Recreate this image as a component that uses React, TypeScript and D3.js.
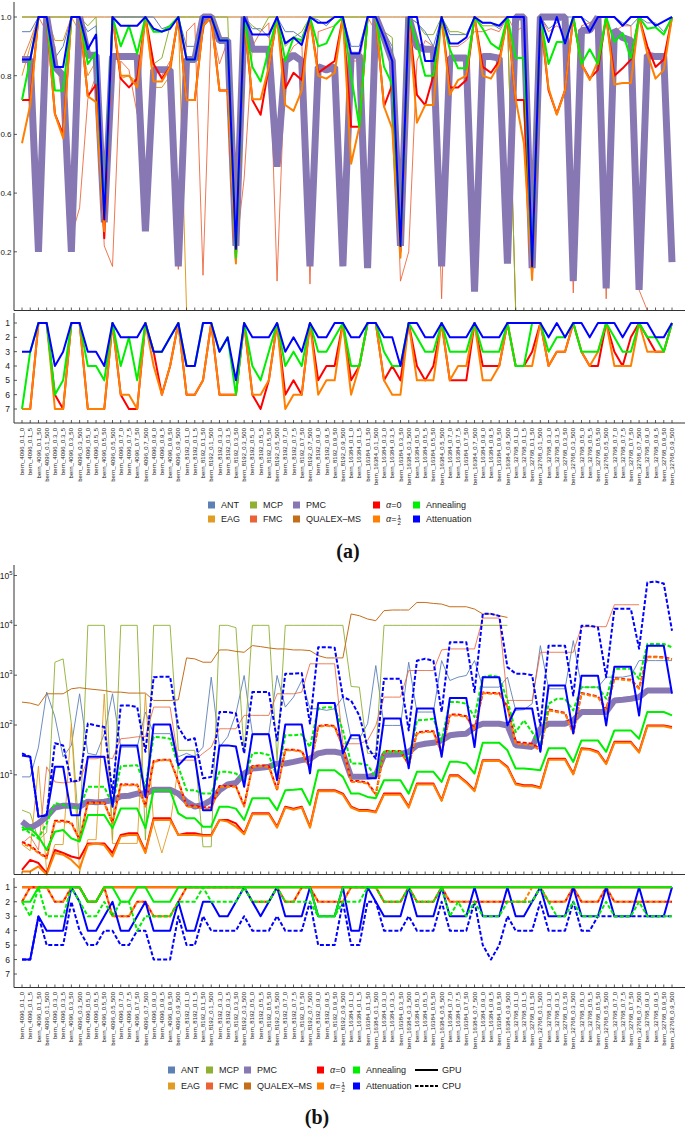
import React from "react";
import * as d3 from "d3";

// ---------- categories ----------
const sizes = ["4096", "8192", "16384", "32768"];
const densities = ["0.1", "0.3", "0.5", "0.7", "0.9"];
const weights = ["0", "5", "50", "500"];
const categories: string[] = [];
for (const s of sizes) for (const p of densities) for (const w of weights) categories.push(`bern_${s}_${p}_${w}`);

// ---------- panel (a): quality ----------
const antA = [
  0.95, 0.95, 1, 1, 0.86, 0.9, 1, 1, 0.95, 0.97,
  0.3, 1, 1, 1, 1, 1, 1, 0.96, 0.97, 1,
  0.9, 0.9, 1, 1, 0.92, 0.92, 0.21, 1, 0.96, 0.96,
  0.93, 1, 0.95, 0.95, 0.93, 1, 0.99, 0.97, 1, 1,
  0.9, 0.9, 1, 1, 0.95, 0.9, 0.22, 1, 0.98, 0.95,
  0.9, 1, 0.94, 0.94, 0.94, 1, 0.98, 0.98, 0.96, 1,
  1, 1, 0.15, 1, 0.96, 0.98, 1, 1, 1, 0.98,
  1, 1, 1, 0.98, 0.97, 1, 0.98, 0.98, 0.95, 1,
];
const mcpA = [
  1, 1, 1, 1, 1, 1, 1, 1, 0.97, 1,
  0.31, 1, 1, 1, 1, 1, 0.84, 0.86, 0.97, 1,
  1, 1, 1, 1, 1, 1, 0.21, 1, 0.97, 0.95,
  1, 1, 0.9, 0.93, 0.95, 1, 1, 1, 1, 1,
  1, 1, 1, 1, 0.95, 0.93, 0.22, 1, 0.98, 0.94,
  0.94, 1, 0.95, 0.95, 0.94, 1, 0.97, 0.97, 0.97, 1,
  0, 0, 0, 0, 0, 0, 0, 0, 0, 0,
  0, 0, 0, 0, 0, 0, 0, 0, 0, 0,
];
const eagA = [
  0.8, 0.9, 1, 1, 0.92, 0.92, 1, 0.95, 0.8, 0.85,
  0.3, 1, 0.79, 0.8, 0.78, 1, 0.76, 0.76, 0.8, 1,
  0, 0, 0, 0, 0, 0, 0, 0, 0, 0,
  0, 0, 0, 0, 0, 0, 0, 0, 0, 0,
  0, 0, 0, 0, 0, 0, 0, 0, 0, 0,
  0, 0, 0, 0, 0, 0, 0, 0, 0, 0,
  0, 0, 0, 0, 0, 0, 0, 0, 0, 0,
  0, 0, 0, 0, 0, 0, 0, 0, 0, 0,
];
const fmcA = [
  0.85, 0.92, 1, 0.95, 0.9, 0.7, 0.25, 0.35, 0.72, 0.8,
  0.22, 0.15, 0.85, 0.82, 0.67, 1, 0.82, 0.8, 0.85, 0.14,
  0.95, 0.98, 0.12, 0.98, 0.84, 0.92, 0.2, 0.45, 0.9, 0.95,
  0.98, 0.1, 0.85, 0.9, 0.92, 0.09, 0.95, 0.96, 0.97, 1,
  0.85, 0.85, 1, 0.95, 0.92, 0.88, 0.1, 0.2, 0.85, 0.92,
  0.9, 0.04, 0.9, 0.9, 0.92, 0.95, 0.95, 0.96, 0.95, 1,
  0.95, 0.97, 0.12, 1, 0.95, 0.97, 0.95, 0.06, 0.97, 0.98,
  0.97, 0.04, 0.95, 0.97, 0.97, 0.07, 0, 0, 0, 0,
];
const qualexA = [
  1, 1, 1, 1, 1, 1, 1, 1, 1, 1,
  1, 1, 1, 1, 1, 1, 1, 1, 1, 1,
  1, 1, 1, 1, 1, 1, 1, 1, 1, 1,
  1, 1, 1, 1, 1, 1, 1, 1, 1, 1,
  1, 1, 1, 1, 1, 1, 1, 1, 1, 1,
  1, 1, 1, 1, 1, 1, 1, 1, 1, 1,
  0, 0, 0, 0, 0, 0, 0, 0, 0, 0,
  0, 0, 0, 0, 0, 0, 0, 0, 0, 0,
];
const pmcA = [
  0.855, 0.855, 0.2, 1, 0.83, 0.8, 0.2, 1, 0.87, 0.87,
  0.3, 0.865, 0.865, 0.865, 0.865, 0.27, 0.82, 0.82, 0.82, 0.15,
  0.855, 0.855, 1, 1, 0.92, 0.92, 0.22, 1, 0.89, 0.89,
  0.89, 0.49, 0.85, 0.87, 0.85, 0.15, 0.83, 0.82, 0.83, 0.15,
  0.87, 0.87, 0.144, 1, 0.93, 0.85, 0.22, 1, 0.9, 0.89,
  0.89, 0.15, 0.86, 0.86, 0.86, 0.064, 0.865, 0.865, 0.86, 0.16,
  1, 1, 0.144, 1, 1, 1, 1, 0.1, 0.955, 0.955,
  1, 0.075, 0.955, 0.93, 0.92, 0.07, 0.87, 0.865, 0.865, 0.165,
];
const alpha0A = [
  0.717, 0.717, 1, 1, 0.67, 0.6, 1, 1, 0.73, 0.77,
  0.246, 1, 0.79, 0.76, 0.79, 1, 0.84, 0.79, 0.83, 1,
  0.717, 0.717, 0.97, 1, 0.75, 0.75, 0.17, 1, 0.717, 0.667,
  0.83, 1, 0.757, 0.81, 0.785, 1, 0.81, 0.83, 0.85, 1,
  0.626, 0.626, 1, 1, 0.695, 0.77, 0.2, 1, 0.735, 0.7,
  0.8, 1, 0.76, 0.76, 0.785, 1, 0.83, 0.81, 0.85, 1,
  0.717, 0.717, 0.13, 1, 0.75, 0.67, 0.75, 1, 0.84, 0.79,
  0.82, 1, 0.8, 0.825, 0.855, 1, 0.9, 0.83, 0.855, 1,
];
const alphaHalfA = [
  0.57, 0.7, 1, 1, 0.67, 0.587, 1, 1, 0.73, 0.71,
  0.27, 1, 0.8, 0.8, 0.76, 1, 0.78, 0.78, 0.83, 1,
  0.717, 0.717, 0.97, 1, 0.75, 0.75, 0.16, 1, 0.72, 0.72,
  0.83, 1, 0.7, 0.68, 0.75, 1, 0.8, 0.79, 0.81, 1,
  0.5, 0.626, 1, 1, 0.695, 0.62, 0.18, 1, 0.64, 0.7,
  0.7, 1, 0.735, 0.785, 0.8, 1, 0.8, 0.79, 0.84, 1,
  0.72, 0.57, 0.104, 1, 0.757, 0.667, 0.75, 1, 0.84, 0.785,
  0.85, 1, 0.77, 0.775, 0.775, 1, 0.875, 0.79, 0.82, 1,
];
const annealingA = [
  0.717, 0.855, 1, 1, 0.75, 0.75, 1, 1, 0.84, 0.88,
  0.32, 1, 0.9, 0.97, 0.875, 1, 0.95, 0.95, 0.97, 1,
  0.855, 0.855, 1, 1, 0.92, 0.92, 0.18, 1, 0.83, 0.78,
  0.89, 1, 0.85, 0.93, 0.92, 1, 0.9, 0.91, 0.97, 1,
  0.8, 0.626, 1, 1, 0.83, 0.77, 0.22, 1, 0.91, 0.8,
  0.8, 1, 0.89, 0.825, 0.825, 1, 0.96, 0.91, 0.89, 1,
  0.86, 0.86, 0.15, 1, 0.84, 0.915, 0.915, 1, 0.84, 0.89,
  0.84, 1, 0.915, 0.945, 0.86, 1, 0.96, 0.965, 0.94, 1,
];
const attenuationA = [
  0.855, 0.855, 1, 1, 0.83, 0.83, 1, 1, 0.89, 0.94,
  0.31, 1, 0.97, 0.97, 0.97, 1, 0.96, 0.95, 0.96, 1,
  0.855, 0.855, 1, 1, 0.92, 0.92, 0.21, 1, 0.94, 0.94,
  0.94, 1, 0.91, 0.93, 0.905, 1, 0.98, 0.98, 1, 1,
  0.876, 0.876, 1, 1, 0.93, 0.85, 0.22, 1, 1, 0.85,
  0.85, 1, 0.91, 0.91, 0.93, 1, 0.98, 0.98, 0.97, 1,
  1, 1, 0.15, 1, 0.915, 1, 0.91, 1, 1, 0.95,
  1, 1, 1, 0.97, 1, 1, 1, 0.97, 0.985, 1,
];

// ---------- panel (a): ranks ----------
const rankAlpha0A = [
  7, 7, 1, 1, 6, 7, 1, 1, 7, 7,
  7, 1, 6, 7, 7, 1, 3, 6, 4, 1,
  6, 6, 5, 1, 6, 6, 6, 1, 6, 7,
  5, 1, 6, 5, 6, 1, 5, 4, 4, 1,
  5, 4, 1, 1, 5, 4, 5, 1, 4, 5,
  4, 1, 5, 5, 5, 1, 4, 4, 4, 1,
  4, 4, 3, 1, 4, 3, 3, 1, 3, 4,
  4, 1, 3, 4, 2, 1, 2, 3, 3, 1,
];
const rankAlphaHalfA = [
  7, 7, 1, 1, 7, 7, 1, 1, 7, 7,
  7, 1, 6, 6, 7, 1, 4, 6, 4, 1,
  6, 6, 5, 1, 6, 6, 6, 1, 6, 6,
  5, 1, 7, 6, 6, 1, 6, 5, 5, 1,
  6, 4, 1, 1, 5, 6, 6, 1, 5, 5,
  5, 1, 5, 4, 4, 1, 5, 5, 4, 1,
  4, 4, 4, 1, 4, 3, 3, 1, 3, 4,
  3, 1, 4, 4, 4, 1, 3, 3, 3, 1,
];
const rankAnnealingA = [
  7, 3, 1, 1, 6, 5, 1, 1, 4, 4,
  5, 1, 4, 2, 5, 1, 3, 3, 2, 1,
  4, 4, 1, 1, 3, 2, 6, 1, 4, 5,
  3, 1, 4, 3, 4, 1, 3, 3, 2, 1,
  4, 4, 1, 1, 3, 4, 4, 1, 2, 3,
  3, 1, 3, 3, 3, 1, 3, 3, 3, 1,
  4, 4, 1, 1, 3, 2, 2, 1, 3, 3,
  3, 1, 2, 3, 3, 1, 2, 2, 3, 1,
];
const rankAttenuationA = [
  3, 3, 1, 1, 4, 3, 1, 1, 3, 3,
  4, 1, 2, 2, 2, 1, 3, 3, 2, 1,
  4, 4, 1, 1, 3, 2, 5, 1, 2, 2,
  2, 1, 3, 2, 3, 1, 2, 2, 1, 1,
  2, 2, 1, 1, 2, 2, 4, 1, 1, 2,
  2, 1, 2, 2, 2, 1, 2, 2, 2, 1,
  1, 1, 1, 1, 2, 1, 2, 1, 1, 2,
  1, 1, 1, 2, 1, 1, 1, 2, 2, 1,
];

// ---------- panel (b): running time ----------
const N = null;
const antB = [
  9.1, 9.1, 36, 457, 145, 23, 39, 423, 27, 25,
  67, 423, 36, 36, 36, 182, 67, 67, 67, 23,
  27, 23, 36, 912, 36, 58, 169, 985, 67, 67,
  67, 985, 229, 363, 782, 212, 212, 197, 212, 363,
  53, 53, 106, 1560, 98, 98, 98, 1820, 182, 182,
  182, 1960, 782, 912, 985, 1960, 575, 575, 575, 912,
  197, 203, 267, 3920, 533, 533, 533, 4930, 575, 575,
  575, 912, 912, 912, 985, 1960, 1960, 1960, 1960, 1960,
];
const mcpB = [
  1.96, 1.69, 0.49, 0.7, 1820, 2120, 106, 0.49, 10000, 10000,
  10000, 0.49, 10000, 10000, 10000, 0.49, 10000, 10000, 10000, 31,
  31, 31, 0.36, 0.36, 10000, 10000, 9000, 27, 10000, 10000,
  10000, 19.7, 10000, 10000, 10000, 10000, 10000, 10000, 10000, 10000,
  593, 575, 27, 27, 10000, 10000, 10000, 10000, 10000, 10000,
  10000, 10000, 10000, 10000, 10000, 10000, 10000, 10000, 10000, 10000,
  N, N, N, N, N, N, N, N, N, N,
  N, N, N, N, N, N, N, N, N, N,
];
const eagB = [
  0.4, 0.3, 15, 0.11, 0.4, 0.4, 106, 0.11, 0.5, 0.5,
  420, 0.42, 0.42, 0.42, 0.42, 420, 1.0, 0.27, 1.0, 15,
  N, N, N, N, N, N, N, N, N, N,
  N, N, N, N, N, N, N, N, N, N,
  N, N, N, N, N, N, N, N, N, N,
  N, N, N, N, N, N, N, N, N, N,
  N, N, N, N, N, N, N, N, N, N,
  N, N, N, N, N, N, N, N, N, N,
];
const fmcB = [
  0.42, 0.58, 0.31, 14.5, 7.2, 6.9, 7.2, 7.5, 21, 21,
  23, 21, 53, 55, 58, 58, 229, 229, 229, 19.7,
  19.7, 19.7, 27, 36, 84, 84, 84, 156, 156, 156,
  156, 423, 423, 423, 457, 1690, 1690, 1690, 1690, 42,
  42, 42, 49, 98, 363, 363, 363, 1240, 1240, 1240,
  1240, 3210, 3360, 3360, 3360, 3360, 14000, 14000, 14000, 311,
  311, 311, 311, 2880, 2880, 2880, 2880, 2880, 9400, 9400,
  9400, 9400, 25900, 25900, 25900, 25900, N, N, N, N,
];
const qualexB = [
  288, 275, 247, 423, 423, 423, 533, 560, 533, 512,
  493, 457, 457, 437, 437, 437, 311, 311, 311, 320,
  2220, 2120, 1820, 1820, 3210, 3210, 3000, 2880, 3920, 3740,
  3520, 3360, 3360, 3210, 3210, 3110, 2470, 2220, 2220, 2220,
  16900, 15600, 13400, 12400, 19700, 20300, 20300, 20300, 28800, 28800,
  27500, 26700, 23600, 23600, 23600, 21200, 16900, 16900, 15600, 14400,
  N, N, N, N, N, N, N, N, N, N,
  N, N, N, N, N, N, N, N, N, N,
];
const pmcB = [
  1.15, 0.85, 1.06, 1.45, 2.2, 2.4, 2.4, 2.3, 2.9, 2.8,
  2.9, 3.1, 3.7, 3.8, 4.2, 4.2, 5.0, 5.0, 5.0, 4.2,
  2.9, 2.3, 2.5, 3.1, 4.9, 6.4, 6.9, 10.6, 13.4, 13.8,
  14.5, 16.9, 16.9, 18.2, 19.7, 21, 27, 29, 29, 27,
  9.1, 9.1, 9.1, 9.8, 25, 25.5, 26, 29, 39, 42,
  44, 49, 62, 65, 67, 91, 106, 106, 106, 98,
  39, 38, 36, 84, 106, 106, 106, 124, 182, 182,
  182, 182, 311, 320, 336, 363, 493, 493, 493, 493,
];
const alpha0GpuB = [
  0.124, 0.196, 0.17, 0.106, 0.31, 0.27, 0.23, 0.21, 0.42, 0.42,
  0.42, 0.27, 0.62, 0.67, 0.67, 0.29, 1.34, 1.34, 1.34, 0.62,
  0.67, 0.67, 0.62, 0.62, 1.24, 1.24, 1.06, 0.67, 1.69, 1.69,
  1.69, 0.91, 2.3, 2.1, 2.3, 0.91, 4.9, 4.9, 4.9, 4.2,
  2.3, 1.96, 1.96, 1.82, 4.2, 4.2, 4.2, 2.3, 6.7, 6.7,
  6.7, 3.1, 9.8, 9.8, 7.2, 4.9, 19.7, 19.7, 19.7, 14.5,
  6.7, 6.2, 6.2, 5.6, 21, 21, 21, 10.6, 34, 33,
  29, 17, 46, 46, 46, 29, 98, 98, 98, 91,
];
const alpha0CpuB = [
  0.45, 0.38, 0.28, 0.22, 1.2, 1.2, 1.1, 0.5, 2.8, 2.8,
  2.8, 1.1, 6.5, 6.4, 6.4, 2.4, 19, 20, 20, 7.5,
  2.4, 2.4, 2.2, 2.2, 6.0, 6.0, 5.9, 2.4, 15, 15.4,
  15, 5.1, 32, 32, 30, 14, 95, 100, 95, 37,
  7.5, 7.5, 7.0, 4.1, 30, 30, 30, 16, 70, 75,
  75, 28, 162, 162, 150, 81, 450, 440, 440, 235,
  46, 44, 42, 33, 205, 190, 175, 70, 440, 405,
  375, 205, 870, 840, 810, 550, 2350, 2350, 2280, 2100,
];
const alphaHalfGpuB = [
  0.115, 0.115, 0.145, 0.1, 0.27, 0.25, 0.196, 0.134, 0.39, 0.42,
  0.39, 0.23, 0.58, 0.62, 0.62, 0.27, 1.24, 1.24, 1.24, 0.62,
  0.62, 0.62, 0.6, 0.6, 1.24, 1.15, 0.91, 0.64, 1.62, 1.62,
  1.62, 0.87, 2.2, 2.0, 2.2, 0.87, 4.7, 4.7, 4.7, 4.0,
  2.2, 1.88, 1.88, 1.75, 4.0, 4.0, 4.0, 2.2, 6.4, 6.4,
  6.4, 3.0, 9.4, 9.4, 6.9, 4.7, 18.9, 18.9, 18.9, 13.9,
  6.4, 5.9, 5.9, 5.4, 20, 20, 20, 10.2, 32.6, 31.7,
  27.8, 16.3, 44, 44, 44, 27.8, 94, 94, 94, 87,
];
const alphaHalfCpuB = [
  0.42, 0.36, 0.27, 0.21, 1.15, 1.15, 1.06, 0.49, 2.7, 2.7,
  2.7, 1.06, 6.2, 6.2, 6.2, 2.3, 18.2, 19.7, 19.7, 7.2,
  2.3, 2.3, 2.1, 2.1, 5.75, 5.75, 5.75, 2.3, 14.5, 14.9,
  14.5, 4.9, 31, 31, 29, 13.4, 91, 98, 91, 36,
  7.2, 7.2, 6.7, 3.9, 29, 29, 29, 15.6, 67, 72,
  72, 27, 156, 156, 145, 78, 437, 423, 423, 229,
  42, 41, 39, 31, 197, 182, 169, 67, 423, 392,
  363, 197, 845, 810, 782, 533, 2290, 2290, 2220, 2030,
];
const annealingGpuB = [
  0.78, 0.85, 0.58, 0.31, 0.72, 0.78, 0.53, 0.46, 1.56, 1.56,
  1.56, 0.85, 2.1, 2.1, 2.1, 0.85, 4.9, 4.9, 4.9, 1.69,
  1.34, 1.34, 0.91, 0.91, 2.3, 2.3, 2.1, 1.24, 3.4, 3.4,
  3.4, 1.96, 4.9, 5.0, 5.2, 2.5, 12.4, 12.4, 12.4, 9.1,
  4.2, 4.2, 3.6, 3.4, 7.8, 7.8, 7.8, 4.2, 11.5, 11.5,
  11.5, 7.2, 18.2, 18.2, 16.9, 10.6, 44, 44, 44, 31,
  13.4, 13.4, 13, 12.4, 34, 34, 34, 18.2, 49, 49,
  49, 29, 78, 78, 78, 53, 182, 182, 182, 156,
];
const annealingCpuB = [
  0.91, 0.67, 0.53, 1.06, 2.7, 2.5, 2.2, 2.1, 5.75, 5.75,
  5.75, 2.5, 14.9, 15.2, 15.6, 5.75, 58, 56, 53, 14.5,
  4.9, 4.9, 4.2, 4.2, 11.5, 11.5, 10.6, 7.8, 27, 27.5,
  25, 9.1, 62, 62, 65, 36, 212, 229, 222, 78,
  16.9, 16.9, 15.6, 9.1, 29, 29, 29, 19.7, 124, 127,
  134, 49, 288, 288, 267, 145, 912, 985, 912, 311,
  72, 124, 72, 39, 267, 336, 336, 197, 575, 575,
  575, 336, 1340, 1340, 1340, 845, 4240, 4240, 4240, 3630,
];
const attenuationGpuB = [
  24.5, 23, 1.45, 1.55, 14.5, 14.5, 1.55, 1.55, 23, 23,
  23, 2.3, 39, 39, 39, 3.6, 102, 102, 102, 15.5,
  23, 23, 1.95, 1.95, 39, 39, 37, 5.75, 65, 65,
  65, 7.8, 102, 102, 102, 10.7, 275, 275, 275, 27,
  62, 62, 8.5, 8.5, 135, 135, 135, 13.5, 214, 214,
  214, 23, 347, 347, 347, 36, 912, 912, 912, 98,
  214, 214, 214, 29, 617, 617, 617, 68, 977, 977,
  977, 98, 1480, 1480, 1480, 155, 3900, 3900, 3900, 427,
];
const attenuationCpuB = [
  27, 23, 1.45, 1.55, 43, 39, 7.2, 7.8, 107, 98,
  91, 4.3, 245, 245, 229, 29, 912, 933, 933, 91,
  49, 54, 8.5, 9.1, 182, 182, 170, 27, 457, 457,
  457, 49, 1070, 1070, 1100, 107, 3630, 3630, 3550, 363,
  309, 155, 36, 21, 850, 850, 850, 78, 1950, 2140,
  1950, 182, 4570, 4570, 4570, 457, 17000, 17000, 15500, 1450,
  1070, 1070, 1000, 98, 3900, 3900, 3900, 390, 9800, 9800,
  9100, 912, 21400, 21400, 21400, 3400, 72000, 76000, 69000, 7800,
];

// ---------- panel (b): ranks ----------
const rankAlpha0GpuB = [
  1, 1, 1, 1, 1, 1, 1, 1, 2, 2,
  1, 1, 1, 1, 1, 1, 1, 1, 1, 1,
  1, 1, 1, 1, 1, 1, 1, 1, 1, 1,
  1, 1, 1, 1, 1, 1, 1, 1, 1, 1,
  1, 1, 1, 1, 1, 1, 1, 1, 1, 1,
  1, 1, 1, 1, 1, 1, 1, 1, 1, 1,
  1, 1, 1, 1, 1, 1, 1, 1, 1, 1,
  1, 1, 1, 1, 1, 1, 1, 1, 1, 1,
];
const rankAlpha0CpuB = [
  2, 1, 1, 1, 2, 2, 1, 1, 2, 2,
  1, 3, 3, 3, 2, 2, 3, 3, 3, 2,
  1, 1, 1, 1, 1, 1, 1, 1, 2, 2,
  2, 1, 2, 2, 1, 1, 2, 2, 2, 2,
  1, 1, 1, 1, 2, 2, 2, 1, 2, 2,
  2, 1, 2, 2, 2, 2, 2, 2, 2, 2,
  2, 2, 2, 1, 2, 2, 2, 1, 2, 2,
  2, 1, 2, 2, 2, 2, 2, 2, 2, 2,
];
const rankAlphaHalfGpuB = [
  1, 1, 1, 1, 1, 1, 1, 1, 2, 2,
  1, 1, 1, 1, 1, 1, 1, 1, 1, 1,
  1, 1, 1, 1, 1, 1, 1, 1, 1, 1,
  1, 1, 1, 1, 1, 1, 1, 1, 1, 1,
  1, 1, 1, 1, 1, 1, 1, 1, 1, 1,
  1, 1, 1, 1, 1, 1, 1, 1, 1, 1,
  1, 1, 1, 1, 1, 1, 1, 1, 1, 1,
  1, 1, 1, 1, 1, 1, 1, 1, 1, 1,
];
const rankAlphaHalfCpuB = [
  2, 1, 1, 1, 2, 2, 1, 1, 2, 2,
  1, 3, 3, 3, 2, 2, 3, 3, 3, 2,
  1, 1, 1, 1, 1, 1, 1, 1, 2, 2,
  2, 1, 2, 2, 1, 1, 2, 2, 2, 2,
  1, 1, 1, 1, 2, 2, 2, 1, 2, 2,
  2, 1, 2, 2, 2, 2, 2, 2, 2, 2,
  2, 2, 1, 1, 2, 2, 2, 1, 2, 2,
  2, 1, 2, 2, 2, 2, 2, 2, 2, 2,
];
const rankAnnealingGpuB = [
  2, 2, 1, 1, 1, 1, 1, 1, 2, 2,
  1, 1, 2, 2, 1, 1, 2, 2, 2, 1,
  1, 1, 1, 1, 1, 1, 1, 1, 1, 1,
  1, 1, 1, 1, 1, 1, 3, 3, 3, 1,
  1, 1, 1, 1, 1, 1, 1, 1, 1, 1,
  1, 1, 1, 1, 1, 1, 1, 1, 1, 1,
  1, 1, 1, 1, 1, 1, 1, 1, 1, 1,
  1, 1, 1, 1, 1, 1, 1, 1, 1, 1,
];
const rankAnnealingCpuB = [
  2, 3, 1, 3, 3, 3, 1, 2, 3, 3,
  2, 3, 2, 2, 4, 3, 3, 3, 3, 2,
  2, 2, 1, 2, 2, 2, 2, 1, 2, 2,
  2, 1, 2, 2, 2, 2, 3, 3, 3, 2,
  2, 2, 1, 1, 2, 2, 2, 1, 2, 2,
  2, 1, 3, 2, 3, 2, 3, 3, 3, 2,
  2, 2, 2, 1, 2, 3, 3, 2, 3, 3,
  3, 2, 3, 3, 3, 2, 3, 3, 3, 3,
];
const rankAttenuationGpuB = [
  6, 6, 3, 4, 4, 4, 1, 2, 4, 4,
  3, 2, 4, 4, 3, 2, 4, 4, 4, 2,
  4, 4, 2, 2, 3, 3, 2, 1, 2, 3,
  2, 1, 3, 3, 3, 1, 3, 3, 3, 1,
  4, 4, 1, 2, 3, 3, 3, 1, 3, 3,
  3, 1, 3, 3, 3, 1, 3, 3, 3, 1,
  3, 3, 2, 1, 3, 3, 3, 1, 3, 3,
  3, 1, 3, 3, 3, 1, 3, 3, 3, 1,
];
const rankAttenuationCpuB = [
  6, 6, 3, 5, 5, 5, 2, 4, 5, 5,
  4, 4, 5, 5, 4, 4, 6, 6, 6, 3,
  5, 5, 3, 4, 4, 4, 4, 3, 4, 4,
  4, 3, 4, 4, 4, 2, 5, 5, 5, 2,
  5, 5, 2, 2, 4, 4, 4, 3, 4, 4,
  4, 2, 4, 4, 4, 2, 5, 6, 5, 3,
  4, 4, 4, 2, 4, 4, 4, 2, 4, 4,
  3, 3, 3, 3, 3, 3, 3, 3, 3, 3,
];

const rankTicks = [1, 2, 3, 4, 5, 6, 7];
const qualityTicks = [0.2, 0.4, 0.6, 0.8, 1.0];
const timeTickExponents = [1, 2, 3, 4, 5];

const COL = {
  ANT: "#5E81B5",
  EAG: "#E19C24",
  MCP: "#8FB032",
  FMC: "#EB6235",
  PMC: "#8778B3",
  QUALEX: "#C56E1A",
  a0: "#FF0000",
  aHalf: "#FF8000",
  ann: "#00EE00",
  att: "#0000FF",
};

// ---------- scales ----------
const xScale = d3.scalePoint<string>().domain(categories).range([22, 672]);
const yQual = d3.scaleLinear().domain([0, 1]).range([310.5, 17]);
const yRankA = d3.scaleLinear().domain([1, 7]).range([323, 409]);
const yTime = d3.scaleLog().domain([0.1, 1e5]).range([874.5, 575.5]);
const yRankB = d3.scaleLinear().domain([1, 7]).range([887.3, 974]);

const FONT = "'Liberation Sans', Arial, sans-serif";

type Val = number | null;

function Series(props: {
  values: Val[];
  y: (v: number) => number;
  color: string;
  width: number;
  dash?: string;
  opacity?: number;
  join?: "round" | "bevel" | "miter";
  offset?: number;
}) {
  const line = d3
    .line<Val>()
    .defined((v) => v != null)
    .x((_, i) => xScale(categories[i]) as number)
    .y((v) => props.y(v as number));
  return (
    <path
      d={line(props.values) ?? ""}
      fill="none"
      stroke={props.color}
      strokeWidth={props.width}
      strokeDasharray={props.dash}
      strokeDashoffset={props.offset}
      strokeOpacity={props.opacity ?? 1}
      strokeLinejoin={props.join ?? "round"}
      strokeLinecap="butt"
    />
  );
}

function XAxis(props: { y: number; labelTop?: number }) {
  return (
    <g>
      <line x1={14} x2={685} y1={props.y} y2={props.y} stroke="#333" strokeWidth={1} />
      {categories.map((c) => {
        const x = xScale(c) as number;
        return <line key={c} x1={x} x2={x} y1={props.y} y2={props.y - 3} stroke="#333" strokeWidth={0.8} />;
      })}
      {props.labelTop != null &&
        categories.map((c) => {
          const x = (xScale(c) as number) + 2.1;
          return (
            <text
              key={"l" + c}
              transform={`translate(${x},${props.labelTop}) rotate(-90)`}
              textAnchor="end"
              fontSize={6}
              fill="#222"
            >
              {c}
            </text>
          );
        })}
    </g>
  );
}

function RankAxis(props: { y: (v: number) => number; top: number; bottom: number }) {
  return (
    <g>
      <line x1={14} x2={14} y1={props.top} y2={props.bottom} stroke="#333" strokeWidth={1} />
      {rankTicks.map((r) => (
        <g key={r}>
          <line x1={14} x2={17} y1={props.y(r)} y2={props.y(r)} stroke="#333" strokeWidth={0.8} />
          <text x={10} y={props.y(r) + 3} textAnchor="end" fontSize={8.5} fill="#222">
            {r}
          </text>
        </g>
      ))}
    </g>
  );
}

function Swatch(props: { x: number; y: number; color: string; label: React.ReactNode }) {
  return (
    <g>
      <rect x={props.x} y={props.y - 3.5} width={7} height={7} fill={props.color} />
      <text x={props.x + 13} y={props.y + 3.3} fontSize={9} fill="#222">
        {props.label}
      </text>
    </g>
  );
}

function AlphaHalf(props: { x: number; y: number }) {
  const { x, y } = props;
  return (
    <g fill="#222">
      <text x={x} y={y + 3.3} fontSize={9}>
        <tspan fontStyle="italic">α</tspan>=
      </text>
      <text x={x + 13.2} y={y - 0.5} fontSize={6} textAnchor="middle">1</text>
      <line x1={x + 11.3} x2={x + 15.1} y1={y + 0.6} y2={y + 0.6} stroke="#222" strokeWidth={0.5} />
      <text x={x + 13.2} y={y + 6.3} fontSize={6} textAnchor="middle">2</text>
    </g>
  );
}

function Legend(props: { cols: number[]; rows: number[]; gpu?: number }) {
  const [c0, c1, c2, c3, c4] = props.cols;
  const [r0, r1] = props.rows;
  return (
    <g>
      <Swatch x={c0} y={r0} color={COL.ANT} label="ANT" />
      <Swatch x={c1} y={r0} color={COL.MCP} label="MCP" />
      <Swatch x={c2} y={r0} color={COL.PMC} label="PMC" />
      <Swatch x={c3} y={r0} color={COL.a0} label={<><tspan fontStyle="italic">α</tspan>=0</>} />
      <Swatch x={c4} y={r0} color={COL.ann} label="Annealing" />
      <Swatch x={c0} y={r1} color={COL.EAG} label="EAG" />
      <Swatch x={c1} y={r1} color={COL.FMC} label="FMC" />
      <Swatch x={c2} y={r1} color={COL.QUALEX} label="QUALEX–MS" />
      <rect x={c3} y={r1 - 3.5} width={7} height={7} fill={COL.aHalf} />
      <AlphaHalf x={c3 + 13} y={r1} />
      <Swatch x={c4} y={r1} color={COL.att} label="Attenuation" />
      {props.gpu != null && (
        <g>
          <line x1={props.gpu} x2={props.gpu + 23} y1={r0} y2={r0} stroke="#000" strokeWidth={2} />
          <text x={props.gpu + 27} y={r0 + 3.3} fontSize={9} fill="#222">GPU</text>
          <line x1={props.gpu} x2={props.gpu + 23} y1={r1} y2={r1} stroke="#000" strokeWidth={2} strokeDasharray="3.5,1.5" />
          <text x={props.gpu + 27} y={r1 + 3.3} fontSize={9} fill="#222">CPU</text>
        </g>
      )}
    </g>
  );
}

export default function App() {
  const DASH = "4,2";
  return (
    <svg
      width={685}
      height={1135}
      viewBox="0 0 685 1135"
      style={{ position: "absolute", left: 0, top: 0, background: "#fff" }}
      fontFamily={FONT}
    >
      <rect width={685} height={1135} fill="#fff" />

      {/* ================= PANEL (a) ================= */}
      {/* main quality axes */}
      <line x1={14} x2={14} y1={2} y2={310.5} stroke="#333" strokeWidth={1} />
      {qualityTicks.map((t) => (
        <g key={t}>
          <line x1={14} x2={17} y1={yQual(t)} y2={yQual(t)} stroke="#333" strokeWidth={0.8} />
          <text x={11.5} y={yQual(t) + 3} textAnchor="end" fontSize={8} fill="#222">
            {d3.format(".1f")(t)}
          </text>
        </g>
      ))}
      <Series values={qualexA} y={yQual} color={COL.QUALEX} width={1} />
      <Series values={mcpA} y={yQual} color={COL.MCP} width={1} />
      <Series values={antA} y={yQual} color={COL.ANT} width={1} />
      <Series values={eagA} y={yQual} color={COL.EAG} width={1} />
      <Series values={fmcA} y={yQual} color={COL.FMC} width={1} opacity={0.85} />
      <Series values={pmcA} y={yQual} color={COL.PMC} width={7} join="bevel" />
      <Series values={alpha0A} y={yQual} color={COL.a0} width={2} />
      <Series values={alphaHalfA} y={yQual} color={COL.aHalf} width={2} />
      <Series values={annealingA} y={yQual} color={COL.ann} width={2} />
      <Series values={attenuationA} y={yQual} color={COL.att} width={2} />
      <XAxis y={310.5} />

      {/* rank (a) */}
      <RankAxis y={yRankA} top={313} bottom={423} />
      <Series values={rankAlpha0A} y={yRankA} color={COL.a0} width={2} />
      <Series values={rankAlphaHalfA} y={yRankA} color={COL.aHalf} width={2} />
      <Series values={rankAnnealingA} y={yRankA} color={COL.ann} width={2} />
      <Series values={rankAttenuationA} y={yRankA} color={COL.att} width={2} />
      <XAxis y={423} labelTop={428} />

      <Legend cols={[208, 250, 293, 373, 413]} rows={[505, 519]} />
      <text x={348} y={558} textAnchor="middle" fontSize={20} fontWeight="bold" fontFamily="'Liberation Serif', 'Times New Roman', serif" fill="#111">
        (a)
      </text>

      {/* ================= PANEL (b) ================= */}
      <line x1={14} x2={14} y1={565} y2={874.5} stroke="#333" strokeWidth={1} />
      {timeTickExponents.map((e) => (
        <g key={e}>
          <line x1={14} x2={17} y1={yTime(Math.pow(10, e))} y2={yTime(Math.pow(10, e))} stroke="#333" strokeWidth={0.8} />
          <text x={12.5} y={yTime(Math.pow(10, e)) + 3} textAnchor="end" fontSize={8.5} fill="#222">
            10
            <tspan fontSize={6} dy={-4}>{e}</tspan>
          </text>
        </g>
      ))}
      <Series values={antB} y={yTime} color={COL.ANT} width={0.9} />
      <Series values={mcpB} y={yTime} color={COL.MCP} width={0.9} />
      <Series values={eagB} y={yTime} color={COL.EAG} width={0.9} />
      <Series values={fmcB} y={yTime} color={COL.FMC} width={0.9} opacity={0.9} />
      <Series values={qualexB} y={yTime} color={COL.QUALEX} width={1} />
      <Series values={pmcB} y={yTime} color={COL.PMC} width={6} join="bevel" />
      <Series values={alpha0GpuB} y={yTime} color={COL.a0} width={2} />
      <Series values={alphaHalfGpuB} y={yTime} color={COL.aHalf} width={2} />
      <Series values={alpha0CpuB} y={yTime} color={COL.a0} width={2} dash={DASH} />
      <Series values={alphaHalfCpuB} y={yTime} color={COL.aHalf} width={2} dash={DASH} offset={3} />
      <Series values={annealingGpuB} y={yTime} color={COL.ann} width={2} />
      <Series values={annealingCpuB} y={yTime} color={COL.ann} width={2} dash={DASH} />
      <Series values={attenuationGpuB} y={yTime} color={COL.att} width={2} />
      <Series values={attenuationCpuB} y={yTime} color={COL.att} width={2} dash={DASH} />
      <XAxis y={874.5} />

      {/* rank (b) */}
      <RankAxis y={yRankB} top={878} bottom={987.5} />
      <Series values={rankAlpha0GpuB} y={yRankB} color={COL.a0} width={2} />
      <Series values={rankAlphaHalfGpuB} y={yRankB} color={COL.aHalf} width={2} />
      <Series values={rankAlpha0CpuB} y={yRankB} color={COL.a0} width={2} dash={DASH} />
      <Series values={rankAlphaHalfCpuB} y={yRankB} color={COL.aHalf} width={2} dash={DASH} offset={3} />
      <Series values={rankAttenuationGpuB} y={yRankB} color={COL.att} width={2} />
      <Series values={rankAttenuationCpuB} y={yRankB} color={COL.att} width={2} dash={DASH} />
      <Series values={rankAnnealingCpuB} y={yRankB} color={COL.ann} width={2} dash={DASH} />
      <Series values={rankAnnealingGpuB} y={yRankB} color={COL.ann} width={2} />
      <XAxis y={987.5} labelTop={992} />

      <Legend cols={[168, 206, 244, 317, 353]} rows={[1070, 1086]} gpu={415} />
      <text x={317} y={1124} textAnchor="middle" fontSize={20} fontWeight="bold" fontFamily="'Liberation Serif', 'Times New Roman', serif" fill="#111">
        (b)
      </text>
    </svg>
  );
}
